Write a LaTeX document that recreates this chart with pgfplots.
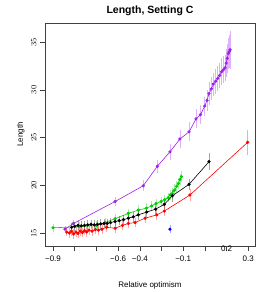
\documentclass[border=0pt]{standalone}
\usepackage{pgfplots}
\pgfplotsset{compat=1.18}
\usepackage{pgfplotstable}
\usepackage{fontspec}
\setmainfont{Liberation Sans}
\definecolor{rpurple}{HTML}{A020F0}
\definecolor{rgreen}{HTML}{00CD00}
\pgfplotstableread{
u y e
0.55 15.4 0.3
0.94 16.0 0.4
2.86 18.3 0.5
4.16 19.95 0.6
4.81 22.0 0.7
5.39 23.5 0.8
5.85 24.85 0.9
6.27 25.6 1.0
6.59 26.95 1.0
6.80 27.4 1.0
6.99 28.3 1.0
7.10 28.9 1.1
7.19 29.6 1.2
7.30 30.1 1.2
7.39 30.6 1.2
7.50 30.9 1.3
7.59 31.2 1.3
7.68 31.5 1.3
7.77 31.9 1.4
7.85 32.1 1.4
7.93 32.3 1.4
7.98 32.8 1.5
8.03 33.3 1.5
8.08 33.8 1.6
8.12 34.0 1.7
8.16 34.2 2.0
}\purpledata
\pgfplotstableread{
u y e
0.86 15.6 0.5
1.00 15.7 0.5
1.15 15.8 0.5
1.30 15.75 0.5
1.45 15.8 0.5
1.60 15.85 0.5
1.75 15.9 0.5
1.90 15.85 0.5
2.05 15.9 0.5
2.20 15.95 0.5
2.35 16.0 0.5
2.50 16.0 0.5
2.65 16.1 0.5
2.86 16.2 0.5
3.05 16.3 0.5
3.25 16.4 0.5
3.47 16.55 0.5
3.70 16.7 0.5
3.93 16.9 0.5
4.32 17.2 0.5
4.73 17.5 0.5
5.13 18.0 0.5
5.50 18.9 0.6
6.27 20.1 0.6
7.19 22.47 0.9
}\blackdata
\pgfplotstableread{
u y e
0.00 15.55 0.4
1.20 15.65 0.5
2.00 15.8 0.5
2.40 16.1 0.5
2.86 16.5 0.5
3.47 17.06 0.5
3.93 17.4 0.5
4.30 17.6 0.5
4.55 17.85 0.5
4.75 18.1 0.5
4.98 18.3 0.5
5.15 18.5 0.5
5.31 18.7 0.5
5.40 19.0 0.5
5.50 19.15 0.6
5.60 19.5 0.6
5.70 19.9 0.6
5.78 20.2 0.6
5.85 20.6 0.6
5.92 20.9 0.6
}\greendata
\pgfplotstableread{
u y e
0.63 15.1 0.4
0.75 15.0 0.5
0.85 15.2 0.5
0.95 14.9 0.5
1.05 15.1 0.5
1.15 14.95 0.5
1.25 15.2 0.5
1.35 15.05 0.5
1.45 15.25 0.5
1.55 15.1 0.5
1.65 15.3 0.5
1.80 15.2 0.5
1.95 15.35 0.5
2.10 15.3 0.5
2.25 15.4 0.5
2.47 15.6 0.5
2.86 15.5 0.5
3.20 15.8 0.5
3.47 16.0 0.5
3.78 16.1 0.5
4.24 16.55 0.5
4.78 16.9 0.5
5.13 17.3 0.5
6.31 18.98 0.6
8.97 24.5 1.3
}\reddata
\pgfplotstableread{
u y e
5.39 15.4 0.4
}\bluedata
\begin{document}
\begin{tikzpicture}
\begin{axis}[
  scale only axis, width=210pt, height=223pt,
  xmin=-0.37, xmax=9.31, ymin=13.64, ymax=37.0,
  axis line style={black!75, line width=0.7pt},
  tick align=outside, tick pos=left, major tick length=5pt,
  tick style={black!75, line width=0.6pt},
  xtick={0,1,2,3,4,5,6,7,9},
  xticklabels={{−0.9},{},{},{−0.6},{−0.4},{},{−0.1},{},{0.3}},
  extra x ticks={8},
  extra x tick labels={{0.2}},
  extra x tick style={tick style={black!75, line width=0.6pt},
    xticklabel style={yshift=9.5pt}},
  ytick={15,20,25,30,35},
  yticklabel style={rotate=90, anchor=south, font=\fontsize{8}{9}\selectfont},
  xticklabel style={font=\fontsize{8}{9}\selectfont, anchor=base, yshift=-10pt},
  title={\bfseries Length, Setting C},
  title style={font=\fontsize{10.5}{12}\selectfont, yshift=-2pt},
  xlabel={Relative optimism}, ylabel={Length},
  xlabel style={at={(axis description cs:0.5,0)}, anchor=base, yshift=-41pt},
  label style={font=\fontsize{8}{9}\selectfont},
  every axis plot/.append style={line width=0.6pt, mark size=1.3pt},
  error bars/error bar style={line width=0.6pt, opacity=0.35},
  error bars/error mark=none,
]
\addplot[color=rpurple, mark=*, error bars/.cd, y dir=both, y explicit] table[x=u, y=y, y error=e]{\purpledata};
\addplot[color=rgreen, mark=*, error bars/.cd, y dir=both, y explicit] table[x=u, y=y, y error=e]{\greendata};
\addplot[color=black, mark=*, error bars/.cd, y dir=both, y explicit] table[x=u, y=y, y error=e]{\blackdata};
\addplot[color=red, mark=*, error bars/.cd, y dir=both, y explicit] table[x=u, y=y, y error=e]{\reddata};
\addplot[color=blue, mark=*, only marks, error bars/.cd, y dir=both, y explicit] table[x=u, y=y, y error=e]{\bluedata};
\end{axis}
\pgfresetboundingbox
\path[use as bounding box] ([shift={(-45pt,-46pt)}]current axis.south west) rectangle ([shift={(11pt,23pt)}]current axis.north east);
\end{tikzpicture}
\end{document}
